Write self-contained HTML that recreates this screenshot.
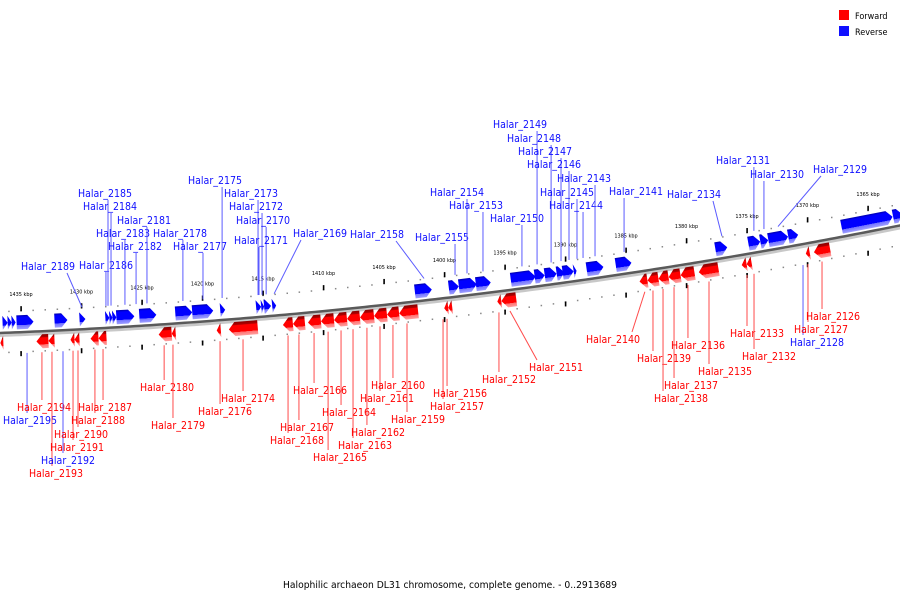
<!DOCTYPE html>
<html><head><meta charset="utf-8"><style>
html,body{margin:0;padding:0;background:#fff;}
svg{display:block;font-family:"DejaVu Sans Condensed","DejaVu Sans","Liberation Sans",sans-serif;}
</style></head><body>
<svg id="map" width="900" height="600" viewBox="0 0 900 600">
<defs>
<linearGradient id="gBlue" x1="0" y1="0" x2="0" y2="1">
<stop offset="0" stop-color="#0000a8"/><stop offset="0.15" stop-color="#0000ff"/><stop offset="0.7" stop-color="#0000ff"/><stop offset="0.71" stop-color="#7070ff"/><stop offset="1" stop-color="#a0a0ff"/></linearGradient>
<linearGradient id="gRed" x1="0" y1="0" x2="0" y2="1">
<stop offset="0" stop-color="#8a0000"/><stop offset="0.2" stop-color="#b00000"/><stop offset="0.25" stop-color="#ff0000"/><stop offset="0.72" stop-color="#ff0000"/><stop offset="0.73" stop-color="#ff7070"/><stop offset="1" stop-color="#ffa0a0"/></linearGradient>
</defs>
<g id="legend">
<rect x="839" y="10" width="10" height="10" fill="#ff0000"/>
<text x="855" y="19" font-size="9" fill="#000">Forward</text>
<rect x="839" y="26" width="10" height="10" fill="#1010ff"/>
<text x="855" y="35" font-size="9" fill="#000">Reverse</text>
</g>
<text x="283" y="588" font-size="9.5" textLength="334" lengthAdjust="spacingAndGlyphs" fill="#000">Halophilic archaeon DL31 chromosome, complete genome. - 0..2913689</text>
</svg>
<script>
// axis ticks (kbp)
const tickKbp = [1435,1430,1425,1420,1415,1410,1405,1400,1395,1390,1385,1380,1375,1370,1365];
// reverse-strand genes (blue), start/end kbp
const revStart = [1436.49,1436.07,1435.74,1435.33,1432.19,1430.12,1427.98,1427.65,1427.40,1427.07,1425.17,1422.19,1420.79,1418.47,1415.50,1415.08,1414.84,1414.17,1402.36,1399.55,1398.72,1397.31,1394.42,1392.44,1391.61,1390.62,1390.12,1389.21,1388.14,1385.73,1377.48,1374.75,1373.76,1373.10,1371.45,1367.07,1362.77];
const revEnd   = [1436.07,1435.74,1435.41,1433.93,1431.12,1429.63,1427.65,1427.40,1427.07,1425.58,1423.76,1420.79,1419.05,1418.06,1415.08,1414.84,1414.26,1413.84,1400.95,1398.72,1397.23,1396.07,1392.35,1391.61,1390.62,1389.96,1389.21,1388.97,1386.74,1384.42,1376.49,1373.76,1373.10,1371.45,1370.62,1362.77,1361.94];
// forward-strand genes (red), start/end kbp
const fwdStart = [1436.74,1433.76,1432.77,1430.95,1430.62,1429.30,1428.64,1423.68,1422.60,1418.89,1417.89,1413.43,1412.60,1411.36,1410.29,1409.21,1408.14,1407.07,1405.91,1404.84,1403.84,1400.12,1399.79,1395.74,1395.41,1384.01,1383.35,1382.44,1381.61,1380.62,1379.13,1375.58,1375.17,1370.29,1369.63];
const fwdEnd   = [1436.49,1432.77,1432.27,1430.62,1430.21,1428.64,1427.98,1422.60,1422.27,1418.55,1415.50,1412.60,1411.61,1410.29,1409.21,1408.14,1407.07,1405.91,1404.84,1403.84,1402.27,1399.79,1399.46,1395.41,1394.17,1383.35,1382.44,1381.61,1380.62,1379.46,1377.48,1375.17,1374.75,1369.96,1368.27];
// labels
const labelNames = ["Halar_2189","Halar_2186","Halar_2185","Halar_2184","Halar_2183","Halar_2182","Halar_2181","Halar_2178","Halar_2177","Halar_2175","Halar_2173","Halar_2172","Halar_2170","Halar_2171","Halar_2169","Halar_2158","Halar_2155","Halar_2154","Halar_2153","Halar_2150","Halar_2149","Halar_2148","Halar_2147","Halar_2146","Halar_2145","Halar_2144","Halar_2143","Halar_2141","Halar_2134","Halar_2131","Halar_2130","Halar_2129",
"Halar_2195","Halar_2194","Halar_2193","Halar_2192","Halar_2191","Halar_2190","Halar_2188","Halar_2187","Halar_2180","Halar_2179","Halar_2176","Halar_2174","Halar_2168","Halar_2167","Halar_2166","Halar_2165","Halar_2164","Halar_2163","Halar_2162","Halar_2161","Halar_2160","Halar_2159","Halar_2157","Halar_2156","Halar_2152","Halar_2151","Halar_2140","Halar_2139","Halar_2138","Halar_2137","Halar_2136","Halar_2135","Halar_2133","Halar_2132","Halar_2128","Halar_2127","Halar_2126"];
const labelStrand = "r".repeat(32) + "rffr" + "f".repeat(30) + "rff";
const labelTarget = [1429.96,1427.98,1427.81,1427.56,1426.41,1425.49,1424.59,1421.62,1419.96,1418.38,1415.41,1415.08,1414.74,1415.33,1414.08,1401.69,1399.13,1398.14,1396.82,1393.60,1392.35,1391.19,1390.37,1389.71,1389.05,1388.55,1387.56,1385.16,1377.07,1374.43,1373.60,1372.44,
1434.50,1433.27,1432.44,1431.53,1430.70,1430.29,1428.89,1428.22,1423.17,1422.44,1418.55,1416.65,1412.93,1412.03,1410.78,1409.62,1408.55,1407.56,1406.41,1405.33,1404.26,1403.10,1400.12,1399.79,1395.50,1394.59,1383.44,1382.77,1381.94,1381.03,1379.88,1378.14,1375.00,1374.42,1370.37,1369.96,1368.80];
// label text layout (pixel position of text, left/baseline)
const labelX = [21,79,78,83,96,108,117,153,173,188,224,229,236,234,293,350,415,430,449,490,493,507,518,527,540,549,557,609,667,716,750,813,
3,17,29,41,50,54,71,78,140,151,198,221,270,280,293,313,322,338,351,360,371,391,430,433,482,529,586,637,654,664,671,698,730,742,790,794,806];
const labelY = [270,269,197,210,237,250,224,237,250,184,197,210,224,244,237,238,241,196,209,222,128,142,155,168,196,209,182,195,198,164,178,173,
424,411,477,464,451,438,424,411,391,429,415,402,444,431,394,461,416,449,436,402,389,423,410,397,383,371,343,362,402,389,349,375,337,360,346,333,320];

const NS = "http://www.w3.org/2000/svg";
const svg = document.getElementById('map');
function xOf(k){ return 21 + (1435 - k) * 12.1; }
function yb(x){ return 333 - 0.0385 * x - 0.00009 * x * x; }
function angle(x){ return Math.atan(-(0.0385 + 0.00018 * x)) * 180 / Math.PI; }
function mk(tag, attrs, parent){ const e = document.createElementNS(NS, tag); for (const k in attrs) e.setAttribute(k, attrs[k]); (parent||svg).appendChild(e); return e; }

// backbone
let d = "";
for (let x = -5; x <= 905; x += 5) d += (x === -5 ? "M" : "L") + x + "," + yb(x).toFixed(2);
const bbLight = mk('path', {d: d, fill: 'none', stroke: '#c8c8c8', 'stroke-width': 5, transform: 'translate(0,1.5)'});


const bb = mk('path', {d: d, fill: 'none', stroke: '#5a5a5a', 'stroke-width': 2.5});



// scale tracks
const scaleG = mk('g', {});


for (let k = 1437; k >= 1360; k--) {
  const x = xOf(k);
  if (x < -2 || x > 902) continue;
  const y = yb(x);
  const dot1 = mk('rect', {x: x - 0.7, y: y - 22, width: 1.5, height: 1.5, fill: '#888'}, scaleG);
  
  
  const dot2 = mk('rect', {x: x - 0.7, y: y + 19, width: 1.5, height: 1.5, fill: '#888'}, scaleG);
  
  
}
tickKbp.forEach(function(k){
  const x = xOf(k), y = yb(x);
  const t1 = mk('rect', {x: x - 0.7, y: y - 26, width: 1.6, height: 5, fill: '#000'}, scaleG);
  
  
  const t2 = mk('rect', {x: x - 0.7, y: y + 19, width: 1.6, height: 5, fill: '#000'}, scaleG);
  
  
  const tl = mk('text', {x: x, y: y - 36, 'font-size': 5.5, 'text-anchor': 'middle', fill: '#000'}, scaleG);
  tl.textContent = k + " kbp";
  
  
});

// genes
function gene(k1, k2, rev){
  const x1 = Math.min(xOf(k1), xOf(k2)), x2 = Math.max(xOf(k1), xOf(k2));
  const w = x2 - x1, cx = (x1 + x2) / 2, h = Math.min(6, w);
  const top = rev ? -17 : 3, bot = rev ? -3 : 17, mid = (top + bot) / 2;
  let pts;
  if (rev) pts = [[-w/2,top],[w/2-h,top],[w/2,mid],[w/2-h,bot],[-w/2,bot]];
  else pts = [[w/2,top],[-w/2+h,top],[-w/2,mid],[-w/2+h,bot],[w/2,bot]];
  const p = mk('polygon', {points: pts.map(q => q[0].toFixed(2) + "," + q[1]).join(" "),
    fill: rev ? 'url(#gBlue)' : 'url(#gRed)',
    transform: 'translate(' + cx.toFixed(2) + ',' + yb(cx).toFixed(2) + ') rotate(' + angle(cx).toFixed(2) + ')'});
  
  
}
for (let i = 0; i < revStart.length; i++) gene(revStart[i], revEnd[i], true);
for (let i = 0; i < fwdStart.length; i++) gene(fwdStart[i], fwdEnd[i], false);

// labels + leader lines
for (let i = 0; i < labelNames.length; i++) {
  const rev = labelStrand[i] === 'r';
  const col = rev ? '#1010ff' : '#ff0000';
  const lcol = rev ? '#5a5aff' : '#ff4a4a';
  const gx = xOf(labelTarget[i]);
  const lx = labelX[i], ly = labelY[i];
  const sx = Math.max(lx + 8, Math.min(lx + 46, gx));
  const above = ly < yb(gx);
  let ln;
  if (above) ln = mk('line', {x1: sx, y1: ly + 3, x2: gx, y2: yb(gx) - 22, stroke: lcol, 'stroke-width': 1});
  else ln = mk('line', {x1: gx, y1: yb(gx) + 21, x2: sx, y2: ly - 11, stroke: lcol, 'stroke-width': 1});
  
  
  const t = mk('text', {x: lx, y: ly, 'font-size': 11, fill: col, textLength: 54, lengthAdjust: 'spacingAndGlyphs'});
  t.textContent = labelNames[i];
  
  
}
</script>
</body></html>
